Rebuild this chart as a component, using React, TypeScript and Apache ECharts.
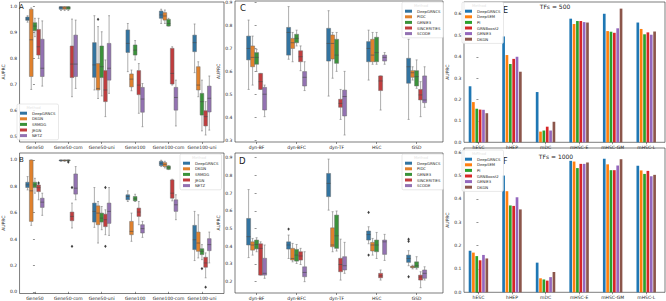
import React, { useEffect, useRef } from 'react';
import * as echarts from 'echarts';

const FONT = 'DejaVu Sans';

// ---------- categories & methods ----------
const geneCats = ['Gene50', 'Gene50-com', 'Gene50-uni', 'Gene100', 'Gene100-com', 'Gene100-uni'];
const geneMethods = ['DeepGRNCS', 'DKGN', 'SRMDG', 'JEGN', 'NETZ'];
const beeCats = ['dyn-BF', 'dyn-BFC', 'dyn-TF', 'HSC', 'GSD'];
const beeMethods = ['DeepGRNCS', 'PIDC', 'GENIE3', 'SINCERITIES', 'SCODE'];
const realCats = ['hESC', 'hHEP', 'mDC', 'mHSC-E', 'mHSC-GM', 'mHSC-L'];
const realMethods = ['DeepGRNCS', 'DeepSEM', 'PI', 'GRNBoost2', 'GENIE3', 'DKGN'];

// ---------- tick labels ----------
const ticksA = [0.5, 0.6, 0.7, 0.8, 0.9, 1.0];
const ticksB = [0.0, 0.2, 0.4, 0.6, 0.8, 1.0];
const ticksC = [0.3, 0.4, 0.5, 0.6, 0.7, 0.8, 0.9];
const ticksD = [0.2, 0.3, 0.4, 0.5, 0.6, 0.7, 0.8, 0.9];
const ticksEF = [0.0, 0.1, 0.2, 0.3, 0.4, 0.5, 0.6];

// ---------- Panel A box stats [min, q1, median, q3, max] ----------
const aDeepGRNCS = [[0.94, 0.947, 0.952, 0.96, 0.965], [0.985, 0.99, 0.997, 1.0, 1.0], [0.678, 0.727, 0.775, 0.861, 0.965], [0.749, 0.823, 0.858, 0.91, 0.935], [0.935, 0.955, 0.968, 0.983, 0.99], [0.745, 0.826, 0.861, 0.89, 0.933]];
const aDKGN = [[0.68, 0.73, 0.872, 0.99, 0.995], [0.985, 0.99, 0.995, 1.0, 1.0], [0.645, 0.678, 0.684, 0.78, 0.923], [0.675, 0.69, 0.72, 0.74, 0.755], [0.935, 0.948, 0.964, 0.977, 0.987], [0.652, 0.678, 0.697, 0.768, 0.787]];
const aSRMDG = [[0.884, 0.907, 0.925, 0.938, 0.955], [0.985, 0.99, 0.996, 1.0, 1.0], [0.655, 0.726, 0.768, 0.848, 0.903], [0.794, 0.813, 0.832, 0.852, 0.869], [0.925, 0.925, 0.935, 0.951, 0.955], [0.52, 0.581, 0.633, 0.665, 0.716]];
const aJEGN = [[0.8, 0.813, 0.845, 0.912, 0.955], [0.652, 0.726, 0.778, 0.848, 0.952], [0.575, 0.633, 0.678, 0.753, 0.794], [0.588, 0.66, 0.697, 0.753, 0.78], [0.697, 0.701, 0.742, 0.839, 0.845], [0.504, 0.539, 0.575, 0.598, 0.633]];
const aNETZ = [[0.693, 0.73, 0.762, 0.874, 0.945], [0.684, 0.73, 0.778, 0.89, 0.948], [0.665, 0.716, 0.762, 0.858, 0.965], [0.536, 0.592, 0.643, 0.688, 0.703], [0.539, 0.6, 0.649, 0.688, 0.716], [0.523, 0.593, 0.646, 0.693, 0.732]];
// outliers [category, method, value]
const aOutliers = [[2, 1, 0.951]];

// ---------- Panel B ----------
const bDeepGRNCS = [[0.773, 0.791, 0.811, 0.831, 0.874], [0.99, 0.993, 0.997, 1.0, 1.0], [0.489, 0.529, 0.61, 0.673, 0.791], [0.685, 0.698, 0.723, 0.736, 0.766], [0.95, 0.957, 0.975, 0.99, 0.998], [0.237, 0.32, 0.395, 0.504, 0.61]];
const bDKGN = [[0.504, 0.534, 0.766, 1.0, 1.0], [0.99, 0.993, 0.997, 1.0, 1.0], [0.37, 0.509, 0.597, 0.652, 0.685], [0.383, 0.433, 0.458, 0.534, 0.597], [0.94, 0.95, 0.967, 0.98, 0.99], [0.257, 0.307, 0.37, 0.453, 0.584]];
const bSRMDG = [[0.748, 0.791, 0.811, 0.831, 0.861], [0.993, 0.995, 0.998, 1.0, 1.0], [0.471, 0.529, 0.559, 0.597, 0.647], [0.685, 0.69, 0.705, 0.723, 0.74], [0.927, 0.929, 0.942, 0.955, 0.957], [0.244, 0.282, 0.307, 0.327, 0.358]];
const bJEGN = [[0.698, 0.76, 0.79, 0.81, 0.815], [0.484, 0.539, 0.572, 0.605, 0.673], [0.433, 0.494, 0.547, 0.589, 0.622], [0.509, 0.572, 0.605, 0.635, 0.685], [0.69, 0.71, 0.748, 0.849, 0.854], [0.106, 0.186, 0.219, 0.262, 0.295]];
const bNETZ = [[0.58, 0.64, 0.68, 0.71, 0.748], [0.698, 0.741, 0.786, 0.894, 0.95], [0.428, 0.519, 0.61, 0.673, 0.791], [0.413, 0.446, 0.479, 0.509, 0.534], [0.547, 0.61, 0.66, 0.698, 0.736], [0.219, 0.312, 0.358, 0.403, 0.453]];
const bOutliers = [[0, 3, 0.825], [1, 2, 0.985], [1, 3, 0.791], [1, 3, 0.345], [2, 3, 0.791], [2, 3, 0.345], [5, 2, 0.176], [5, 3, 0.035]];

// ---------- Panel C ----------
const cDeepGRNCS = [[0.521, 0.65, 0.7, 0.754, 0.824], [0.653, 0.671, 0.77, 0.792, 0.883], [0.492, 0.645, 0.722, 0.788, 0.865], [0.562, 0.642, 0.7, 0.73, 0.78], [0.39, 0.548, 0.62, 0.657, 0.74]];
const cPIDC = [[0.54, 0.62, 0.661, 0.711, 0.754], [0.642, 0.7, 0.725, 0.744, 0.77], [0.57, 0.654, 0.722, 0.759, 0.77], [0.631, 0.642, 0.671, 0.74, 0.77], [0.562, 0.574, 0.594, 0.603, 0.62]];
const cGENIE3 = [[0.6, 0.631, 0.661, 0.682, 0.696], [0.711, 0.725, 0.744, 0.762, 0.78], [0.6, 0.635, 0.671, 0.74, 0.77], [0.631, 0.642, 0.682, 0.749, 0.77], [0.526, 0.536, 0.577, 0.603, 0.65]];
const cSINCERITIES = [[0.521, 0.521, 0.555, 0.591, 0.591], [0.603, 0.642, 0.664, 0.69, 0.711], [0.39, 0.443, 0.46, 0.478, 0.521], [0.431, 0.516, 0.558, 0.58, 0.58], [0.402, 0.475, 0.497, 0.521, 0.555]];
const cSCODE = [[0.402, 0.431, 0.5, 0.53, 0.54], [0.516, 0.536, 0.574, 0.599, 0.642], [0.322, 0.405, 0.49, 0.518, 0.6], [0.631, 0.645, 0.661, 0.671, 0.682], [0.443, 0.463, 0.475, 0.58, 0.62]];
const cOutliers: number[][] = [];

// ---------- Panel D ----------
const dDeepGRNCS = [[0.336, 0.407, 0.454, 0.557, 0.72], [0.331, 0.384, 0.407, 0.425, 0.463], [0.604, 0.68, 0.755, 0.811, 0.892], [0.414, 0.435, 0.466, 0.486, 0.51], [0.29, 0.309, 0.331, 0.35, 0.375]];
const dPIDC = [[0.35, 0.378, 0.407, 0.425, 0.444], [0.312, 0.322, 0.331, 0.388, 0.416], [0.369, 0.397, 0.407, 0.504, 0.595], [0.35, 0.373, 0.407, 0.422, 0.444], [0.272, 0.279, 0.283, 0.288, 0.293]];
const dGENIE3 = [[0.369, 0.385, 0.41, 0.435, 0.448], [0.303, 0.316, 0.35, 0.382, 0.41], [0.373, 0.388, 0.459, 0.576, 0.599], [0.331, 0.369, 0.407, 0.435, 0.478], [0.271, 0.279, 0.29, 0.312, 0.341]];
const dSINCERITIES = [[0.237, 0.237, 0.388, 0.414, 0.425], [0.297, 0.322, 0.345, 0.369, 0.388], [0.209, 0.256, 0.297, 0.332, 0.44], [0.209, 0.222, 0.233, 0.247, 0.266], [0.166, 0.209, 0.226, 0.237, 0.256]];
const dSCODE = [[0.219, 0.237, 0.247, 0.332, 0.407], [0.2, 0.228, 0.252, 0.284, 0.369], [0.247, 0.266, 0.29, 0.341, 0.422], [0.32, 0.354, 0.425, 0.435, 0.467], [0.209, 0.219, 0.247, 0.266, 0.284]];
const dOutliers = [[1, 0, 0.497], [3, 0, 0.591], [3, 0, 0.35], [4, 0, 0.44], [4, 0, 0.428], [4, 0, 0.228]];

// ---------- Panel E (TFs + 500) ----------
const eDeepGRNCS = [0.262, 0.495, 0.235, 0.578, 0.601, 0.56];
const eDeepSEM = [0.188, 0.408, 0.05, 0.553, 0.52, 0.53];
const ePI = [0.157, 0.366, 0.055, 0.567, 0.517, 0.505];
const eGRNBoost2 = [0.153, 0.39, 0.073, 0.567, 0.512, 0.514];
const eGENIE3 = [0.152, 0.4, 0.055, 0.562, 0.533, 0.503];
const eDKGN = [0.136, 0.33, 0.096, 0.56, 0.625, 0.518];

// ---------- Panel F (TFs + 1000) ----------
const fDeepGRNCS = [0.178, 0.5, 0.127, 0.563, 0.572, 0.542];
const fDeepSEM = [0.17, 0.433, 0.06, 0.56, 0.548, 0.522];
const fPI = [0.155, 0.372, 0.055, 0.532, 0.523, 0.507];
const fGRNBoost2 = [0.137, 0.37, 0.05, 0.55, 0.523, 0.52];
const fGENIE3 = [0.16, 0.407, 0.065, 0.55, 0.543, 0.497];
const fDKGN = [0.145, 0.355, 0.087, 0.556, 0.57, 0.503];

const BOX_COLORS = ['#3274a1', '#e1812c', '#3a923a', '#c03d3e', '#9372b2'];
const BAR_COLORS = ['#1f77b4', '#ff7f0e', '#2ca02c', '#d62728', '#9467bd', '#8c564b'];

const boxRender = (hue: number, n: number, gw: number, color: string) => (params: any, api: any) => {
  const cat = api.value(0);
  const p0 = api.coord([cat, api.value(3)]);
  const p1 = api.coord([cat + 1, api.value(3)]);
  const unit = p1[0] - p0[0];
  const bw = (unit * gw) / n;
  const cx = p0[0] + (hue - (n - 1) / 2) * bw;
  const yv = (i: number) => api.coord([cat, api.value(i)])[1];
  const yMin = yv(1), yQ1 = yv(2), yMed = yv(3), yQ3 = yv(4), yMax = yv(5);
  const wl = { stroke: '#8a8a8a', lineWidth: 0.7 };
  const cap = bw / 4;
  return {
    type: 'group',
    children: [
      { type: 'line', shape: { x1: cx, y1: yQ3, x2: cx, y2: yMax }, style: wl },
      { type: 'line', shape: { x1: cx, y1: yQ1, x2: cx, y2: yMin }, style: wl },
      { type: 'line', shape: { x1: cx - cap, y1: yMax, x2: cx + cap, y2: yMax }, style: wl },
      { type: 'line', shape: { x1: cx - cap, y1: yMin, x2: cx + cap, y2: yMin }, style: wl },
      { type: 'rect', shape: { x: cx - bw / 2, y: yQ3, width: bw, height: Math.max(yQ1 - yQ3, 0.6) }, style: { fill: color, stroke: '#6a6a6a', lineWidth: 0.5 } },
      { type: 'line', shape: { x1: cx - bw / 2, y1: yMed, x2: cx + bw / 2, y2: yMed }, style: { stroke: '#4a4a4a', lineWidth: 0.6 } },
    ],
  };
};

const outlierRender = (n: number, gw: number) => (params: any, api: any) => {
  const cat = api.value(0);
  const hue = api.value(1);
  const p0 = api.coord([cat, api.value(2)]);
  const p1 = api.coord([cat + 1, api.value(2)]);
  const bw = ((p1[0] - p0[0]) * gw) / n;
  const cx = p0[0] + (hue - (n - 1) / 2) * bw;
  const cy = p0[1];
  const r = 1.3;
  return {
    type: 'polygon',
    shape: { points: [[cx, cy - r * 1.3], [cx + r, cy], [cx, cy + r * 1.3], [cx - r, cy]] },
    style: { fill: '#3f3f3f' },
  };
};

const barRender = (idx: number, n: number, step: number, wFrac: number, color: string) => (params: any, api: any) => {
  const cat = api.value(0);
  const off = (idx - (n - 1) / 2) * step;
  const a = api.coord([cat + off - (step * wFrac) / 2, api.value(1)]);
  const b = api.coord([cat + off + (step * wFrac) / 2, 0]);
  return { type: 'rect', shape: { x: a[0], y: a[1], width: b[0] - a[0], height: b[1] - a[1] }, style: { fill: color } };
};

function buildOption() {
  const panels = [
    { left: 17, top: 2, width: 207, height: 140, xMin: -0.46, xMax: 5.66, yMin: 0.477, yMax: 1.018, yTicks: ticksA, cats: geneCats, gap: 10 },
    { left: 17, top: 153, width: 207, height: 141, xMin: -0.46, xMax: 5.66, yMin: -0.013, yMax: 1.053, yTicks: ticksB, cats: geneCats, gap: 10 },
    { left: 235, top: 1, width: 208, height: 141, xMin: -0.54, xMax: 4.66, yMin: 0.2913, yMax: 0.9074, yTicks: ticksC, cats: beeCats, gap: 10 },
    { left: 235, top: 153, width: 208, height: 140, xMin: -0.54, xMax: 4.66, yMin: 0.136, yMax: 0.9265, yTicks: ticksD, cats: beeCats, gap: 10 },
    { left: 464, top: 2, width: 201, height: 140.3, xMin: -0.43, xMax: 5.56, yMin: 0, yMax: 0.656, yTicks: ticksEF, cats: realCats, gap: 10 },
    { left: 464, top: 148, width: 201, height: 144.3, xMin: -0.43, xMax: 5.56, yMin: 0, yMax: 0.618, yTicks: ticksEF, cats: realCats, gap: 10 },
  ];

  const lab = { fontSize: 4.5, color: '#262626', fontFamily: FONT };
  const grid: any[] = [];
  const xAxis: any[] = [];
  const yAxis: any[] = [];
  panels.forEach((p, i) => {
    grid.push({ left: p.left, top: p.top, width: p.width, height: p.height, show: true, borderColor: '#262626', borderWidth: 0.6, backgroundColor: 'transparent' });
    const cv = p.cats.map((_, k) => k);
    xAxis.push({
      gridIndex: i, type: 'value', min: p.xMin, max: p.xMax,
      splitLine: { show: false }, axisLine: { show: false },
      axisTick: { show: true, customValues: cv, length: 2, lineStyle: { color: '#262626', width: 0.5 } },
      axisLabel: { ...lab, customValues: cv, margin: 2.5, formatter: (v: number) => p.cats[Math.round(v)] ?? '' },
    });
    yAxis.push({
      gridIndex: i, type: 'value', min: p.yMin, max: p.yMax,
      name: 'AUPRC', nameLocation: 'middle', nameGap: p.gap, nameRotate: 90,
      nameTextStyle: { fontSize: 4.5, color: '#262626', fontFamily: FONT },
      splitLine: { show: false }, axisLine: { show: false },
      axisTick: { show: true, customValues: p.yTicks, length: 2, lineStyle: { color: '#262626', width: 0.5 } },
      axisLabel: { ...lab, customValues: p.yTicks, margin: 2.5, formatter: (v: number) => v.toFixed(1) },
    });
  });

  const series: any[] = [];
  const boxPanels = [
    { idx: 0, methods: geneMethods, arrays: [aDeepGRNCS, aDKGN, aSRMDG, aJEGN, aNETZ], out: aOutliers, gw: 0.55 },
    { idx: 1, methods: geneMethods, arrays: [bDeepGRNCS, bDKGN, bSRMDG, bJEGN, bNETZ], out: bOutliers, gw: 0.55 },
    { idx: 2, methods: beeMethods, arrays: [cDeepGRNCS, cPIDC, cGENIE3, cSINCERITIES, cSCODE], out: cOutliers, gw: 0.5 },
    { idx: 3, methods: beeMethods, arrays: [dDeepGRNCS, dPIDC, dGENIE3, dSINCERITIES, dSCODE], out: dOutliers, gw: 0.5 },
  ];
  boxPanels.forEach((bp) => {
    bp.methods.forEach((m, h) => {
      series.push({
        type: 'custom', name: m, xAxisIndex: bp.idx, yAxisIndex: bp.idx, silent: true, clip: false,
        itemStyle: { color: BOX_COLORS[h] },
        renderItem: boxRender(h, bp.methods.length, bp.gw, BOX_COLORS[h]),
        encode: { x: 0, y: [1, 2, 3, 4, 5] },
        data: bp.arrays[h].map((r, k) => [k, ...r]),
      });
    });
    series.push({
      type: 'custom', name: 'outliers', xAxisIndex: bp.idx, yAxisIndex: bp.idx, silent: true,
      renderItem: outlierRender(bp.methods.length, bp.gw),
      encode: { x: 0, y: 2 },
      data: bp.out,
    });
  });

  const barPanels = [
    { idx: 4, arrays: [eDeepGRNCS, eDeepSEM, ePI, eGRNBoost2, eGENIE3, eDKGN] },
    { idx: 5, arrays: [fDeepGRNCS, fDeepSEM, fPI, fGRNBoost2, fGENIE3, fDKGN] },
  ];
  barPanels.forEach((bp) => {
    realMethods.forEach((m, h) => {
      series.push({
        type: 'custom', name: m, xAxisIndex: bp.idx, yAxisIndex: bp.idx, silent: true,
        itemStyle: { color: BAR_COLORS[h] },
        renderItem: barRender(h, realMethods.length, 0.1, 0.8, BAR_COLORS[h]),
        encode: { x: 0, y: 1 },
        data: bp.arrays[h].map((v, k) => [k, v]),
      });
    });
  });

  const mkLegend = (pos: any, names: string[], colors: string[]) => ({
    ...pos,
    orient: 'vertical', icon: 'rect', itemWidth: 7, itemHeight: 3, itemGap: 1.2, itemTextGap: 3,
    selectedMode: false, padding: [7, 3, 2, 3],
    backgroundColor: 'rgba(255,255,255,0.85)', borderColor: '#d0d0d0', borderWidth: 0.5, borderRadius: 1.5,
    textStyle: { fontSize: 3.8, lineHeight: 4.4, color: '#262626', fontFamily: FONT },
    data: names.map((n, i) => ({ name: n, itemStyle: { color: colors[i] } })),
  });
  const legend = [
    mkLegend({ left: 17, top: 104 }, geneMethods, BOX_COLORS),
    mkLegend({ left: 180, top: 154 }, geneMethods, BOX_COLORS),
    mkLegend({ left: 402, top: 2 }, beeMethods, BOX_COLORS),
    mkLegend({ left: 402, top: 154 }, beeMethods, BOX_COLORS),
    mkLegend({ left: 462, top: 2 }, realMethods, BAR_COLORS),
    mkLegend({ left: 462, top: 150 }, realMethods, BAR_COLORS),
  ];

  const txt = (x: number, y: number, s: string, size: number, align = 'left') => ({
    type: 'text', x, y, style: { text: s, fontSize: size, fill: '#1a1a1a', fontFamily: FONT, textAlign: align, textVerticalAlign: 'middle' },
  });
  const graphic = [
    txt(19, 7, 'A', 7), txt(19, 160, 'B', 7), txt(240, 7.5, 'C', 8.5), txt(239, 161, 'D', 8.5),
    txt(503, 10.5, 'E', 8), txt(503, 161, 'F', 8),
    txt(555, 6, 'TFs = 500', 6, 'center'), txt(556, 156.5, 'TFs = 1000', 6, 'center'),
    txt(33.5, 107.8, 'Method', 3.8, 'center'), txt(199, 157.8, 'Method', 3.8, 'center'),
    txt(421, 5.8, 'Method', 3.8, 'center'), txt(421, 157.8, 'Method', 3.8, 'center'),
    txt(479, 5.8, 'Method', 3.8, 'center'), txt(479, 153.8, 'Method', 3.8, 'center'),
  ];

  return { animation: false, backgroundColor: '#ffffff', grid, xAxis, yAxis, series, legend, graphic };
}

export default function App() {
  const ref = useRef<HTMLDivElement>(null);
  useEffect(() => {
    const chart = echarts.init(ref.current as HTMLDivElement, null, { renderer: 'svg' });
    chart.setOption(buildOption() as any);
    return () => chart.dispose();
  }, []);
  return <div ref={ref} style={{ position: 'absolute', left: 0, top: 0, width: 666, height: 301, background: '#fff' }} />;
}
